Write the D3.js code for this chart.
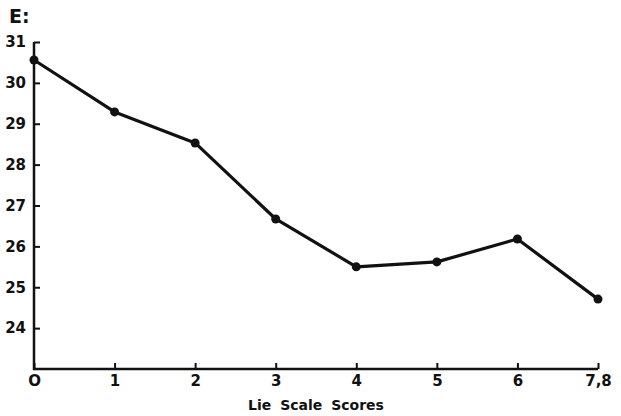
<!DOCTYPE html>
<html>
<head>
<meta charset="utf-8">
<script src="https://cdn.jsdelivr.net/npm/d3@7/dist/d3.min.js"></script>
<style>
  body { margin: 0; background: #fff; }
  svg text { font-family: "DejaVu Sans", sans-serif; font-weight: bold; fill: #111; }
</style>
</head>
<body>
<svg id="chart" width="621" height="416"></svg>
<script>
// Mean E score by Lie scale score
const categories = ["O", "1", "2", "3", "4", "5", "6", "7,8"];
const eMeans = [30.56, 29.29, 28.53, 26.67, 25.50, 25.62, 26.18, 24.71];
const yTicks = [24, 25, 26, 27, 28, 29, 30, 31];

const svg = d3.select("#chart");
const plotLeft = 34, plotRight = 598, plotTop = 42, plotBottom = 369;

const x = d3.scalePoint().domain(categories).range([plotLeft, plotRight]);
const y = d3.scaleLinear().domain([23, 31]).range([plotBottom, plotTop]);

const ink = "#111";

// y axis, ticks pointing inward
const yAxis = svg.append("g").attr("transform", `translate(${plotLeft},0)`)
  .call(d3.axisLeft(y).tickValues(yTicks).tickSize(-6).tickPadding(14).tickFormat(d3.format("d")));
yAxis.select(".domain").remove();
yAxis.selectAll("line").attr("stroke", ink).attr("stroke-width", 2);
yAxis.selectAll("text").attr("font-size", 15).attr("x", -8);
svg.append("line").attr("x1", plotLeft).attr("x2", plotLeft).attr("y1", y(31)).attr("y2", plotBottom + 1)
  .attr("stroke", ink).attr("stroke-width", 2.5);

// x axis, ticks pointing inward
const xAxis = svg.append("g").attr("transform", `translate(0,${plotBottom})`)
  .call(d3.axisBottom(x).tickSize(-6).tickPadding(4));
xAxis.select(".domain").remove();
xAxis.selectAll("line").attr("stroke", ink).attr("stroke-width", 2);
xAxis.selectAll("text").attr("font-size", 15).attr("y", 6);
svg.append("line").attr("x1", plotLeft - 1).attr("x2", plotRight).attr("y1", plotBottom).attr("y2", plotBottom)
  .attr("stroke", ink).attr("stroke-width", 2.5);

// data line and points
svg.append("path")
  .datum(eMeans)
  .attr("fill", "none").attr("stroke", ink).attr("stroke-width", 3.2)
  .attr("stroke-linejoin", "round")
  .attr("d", d3.line().x((d, i) => x(categories[i])).y(d => y(d)));

svg.selectAll("circle.pt").data(eMeans).join("circle")
  .attr("class", "pt")
  .attr("cx", (d, i) => x(categories[i])).attr("cy", d => y(d)).attr("r", 4.5)
  .attr("fill", ink);

// axis titles
svg.append("text").attr("x", 9).attr("y", 23).attr("font-size", 19).text("E:");
svg.append("text").attr("x", 316).attr("y", 410).attr("text-anchor", "middle")
  .attr("font-size", 14).attr("word-spacing", 4).text("Lie Scale Scores");
</script>
</body>
</html>
